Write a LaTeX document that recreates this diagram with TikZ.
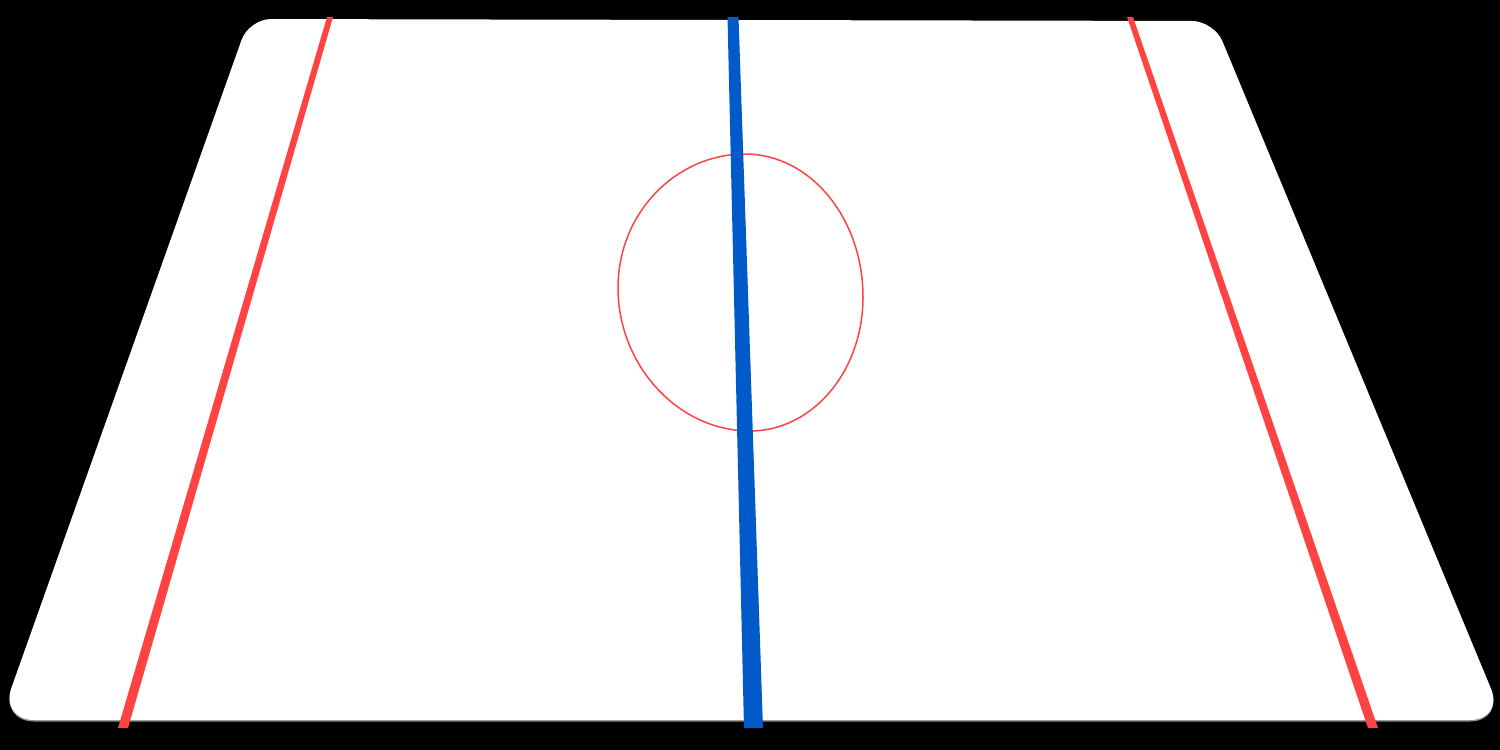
\documentclass[tikz,border=0pt]{standalone}
\definecolor{rinkred}{RGB}{255,66,66}
\definecolor{rinkblue}{RGB}{0,90,202}
\definecolor{rinkshadow}{RGB}{140,140,140}
\tikzset{
  redline/.style={fill=rinkred},
  blueline/.style={fill=rinkblue},
  faceoff/.style={draw=rinkred, line width=1.5pt}
}
\newcommand{\rinkpath}[1]{%
  [rounded corners=22pt] (249,19+#1) -- (1214,21+#1)
  [rounded corners=34pt] -- (1504,720+#1) -- (0,720+#1)
  [rounded corners=22pt] -- cycle}
\begin{document}
\begin{tikzpicture}[x=1pt,y=-1pt]
\useasboundingbox (0,0) rectangle (1500,750);
\fill[black] (0,0) rectangle (1500,750);
\begin{scope}
\clip (0,0) rectangle (1500,750);
% shadow
\fill[rinkshadow] \rinkpath{1.5};
% rink surface
\fill[white] \rinkpath{0};
\end{scope}
% faceoff circle
\draw[faceoff] (745,154) .. controls (810,154) and (863,218) .. (863,297)
  .. controls (863,372) and (812,431) .. (750,431)
  .. controls (678,431) and (618,365) .. (618,288)
  .. controls (618,212) and (677,154) .. (745,154) -- cycle;
% red lines
\fill[redline] (327,17) -- (333,17) -- (128,728) -- (118,728) -- cycle;
\fill[redline] (1127,17) -- (1133,17) -- (1378,728) -- (1368,728) -- cycle;
% blue line
\fill[blueline] (727.5,17) -- (738.5,17) -- (763,728) -- (744,728) -- cycle;
\end{tikzpicture}
\end{document}
